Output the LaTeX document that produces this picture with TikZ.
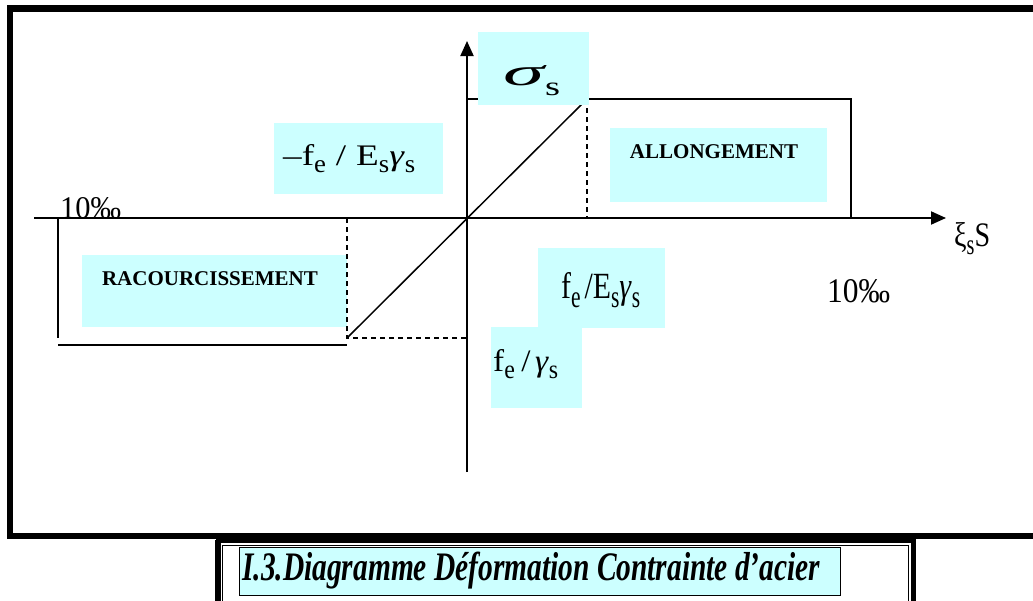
\documentclass[tikz,border=0pt]{standalone}
\usepackage{fontspec}
\setmainfont{Liberation Serif}
\usetikzlibrary{arrows.meta}
\definecolor{boxcyan}{HTML}{CCFFFF}
\newcommand\fsz[1]{\fontsize{#1}{#1}\selectfont}
\newcommand\sbs[1]{\raisebox{-0.25em}{\scalebox{0.72}[0.85]{#1}}}
\begin{document}
\begin{tikzpicture}[x=1pt,y=-1pt,
  cbox/.style={fill=boxcyan, draw=none, inner sep=0pt},
  axisln/.style={line width=2pt, -{Triangle[length=15pt,width=13pt]}},
  diagln/.style={line width=1.5pt},
  plateln/.style={line width=1.8pt},
  dashln/.style={line width=1.5pt, dash pattern=on 5pt off 4pt},
  lbl/.style={anchor=base west, inner sep=0pt, font=\fsz{30}},
  bold/.style={anchor=base, inner sep=0pt, font=\fsz{21}\bfseries}]
\useasboundingbox (0,0) rectangle (1033,600);
\clip (0,0) rectangle (1033,600);
% main frame
\draw[line width=6.5pt, line join=miter] (1045,8.5) -- (10,8.5) -- (10,536) -- (1045,536);
% caption frame
\draw[line width=5pt] (216,540.5) -- (915.5,540.5);
\draw[line width=5pt] (218.5,536) -- (218.5,605);
\draw[line width=5pt] (913,536) -- (913,605);
\draw[line width=0.8pt] (215,540) -- (215,605);
\draw[line width=0.8pt] (222,605) -- (222,545) -- (908,545) -- (908,605);
\node[cbox, draw=black, line width=0.8pt, minimum width=601pt, minimum height=48pt] (capbox) at (539.5,571) {};
\node[lbl] (captxt) at (242,580) {\resizebox{578pt}{28.5pt}{\bfseries\itshape I.3.Diagramme Déformation Contrainte d’acier}};
% cyan boxes
\node[cbox, minimum width=169pt, minimum height=71pt] (negbox) at (358.5,158.5) {};
\node[cbox, minimum width=265pt, minimum height=72pt] (racbox) at (214.5,291) {};
\node[cbox, minimum width=217pt, minimum height=74pt] (allbox) at (718.5,165) {};
\node[cbox, minimum width=127pt, minimum height=80pt] (febox) at (601.5,288) {};
\node[cbox, minimum width=91pt, minimum height=81pt] (fgbox) at (536.5,367.5) {};
% axes
\coordinate (O) at (467,218);
\coordinate (xs) at (34,218);
\coordinate (xe) at (946,218);
\coordinate (ys) at (467,472);
\coordinate (ye) at (467,41);
\draw[axisln] (xs) -- (xe);
\draw[axisln] (ys) -- (ye);
% curve
\coordinate (Pt) at (587,99);
\coordinate (Pc) at (347,338);
\coordinate (ytop) at (467,99);
\coordinate (pr1) at (851,99);
\coordinate (pr2) at (851,218);
\coordinate (Ptx) at (587,218);
\coordinate (Pcx) at (347,218);
\coordinate (Pcy) at (467,338);
\coordinate (pl1) at (58,218);
\coordinate (pl2) at (58,338);
\coordinate (pl3) at (58,345);
\coordinate (pl4) at (347,345);
\draw[diagln] (Pc) -- (Pt);
\draw[plateln] (ytop) -- (pr1) -- (pr2);
\draw[dashln] (Pt) -- (Ptx);
\draw[dashln] (Pcx) -- (Pc) -- (Pcy);
\draw[plateln] (pl1) -- (pl2);
\draw[plateln] (pl3) -- (pl4);
% sigma box on top
\node[cbox, minimum width=111pt, minimum height=73pt] (sigbox) at (533.5,68.5) {};
% texts
\node[lbl] (sigtxt) at (503,85) {\resizebox{41pt}{20pt}{\itshape σ}\hspace{1pt}\raisebox{-10pt}{\resizebox{15pt}{12.5pt}{s}}};
\node[lbl] (negtxt) at (283,165) {\resizebox{132pt}{21pt}{–f\sbs{e}\hspace{8pt}/\hspace{8pt}E\sbs{s}\textit{γ}\sbs{s}}};
\node[lbl] (fetxt) at (561,298) {\resizebox{79pt}{26pt}{f\sbs{e}\hspace{4pt}/E\sbs{s}\textit{γ}\sbs{s}}};
\node[lbl] (fgtxt) at (493,371) {\resizebox{65pt}{22pt}{f\sbs{e}\hspace{6pt}/\hspace{4pt}\textit{γ}\sbs{s}}};
\node[lbl] (xitxt) at (954,246) {\resizebox{36pt}{24pt}{ξ\sbs{s}S}};
\node[lbl] (tenl) at (60,218) {\resizebox{61pt}{21pt}{10‰}};
\node[lbl] (tenr) at (827,302) {\resizebox{63pt}{23pt}{10‰}};
\node[bold] (ractxt) at (210,285) {RACOURCISSEMENT};
\node[bold] (alltxt) at (714,158) {ALLONGEMENT};
\end{tikzpicture}
\end{document}
